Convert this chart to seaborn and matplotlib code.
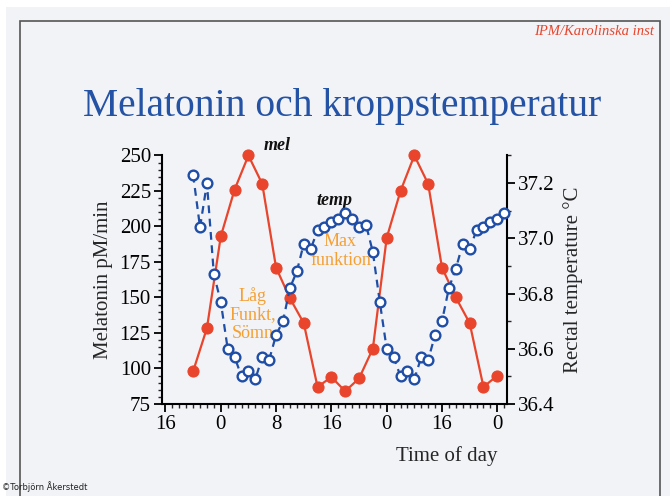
import seaborn as sns
import matplotlib.pyplot as plt
import matplotlib.patches as patches
import pandas as pd
from matplotlib.ticker import MultipleLocator

# hours after 16:00 on the first day
mel_hours = [4, 6, 8, 10, 12, 14, 16, 18, 20, 22, 24, 26, 28, 30, 32, 34, 36, 38,
             40, 42, 44, 46, 48]
melatonin = [98, 128.5, 193, 226, 250, 230, 171, 149.5, 132, 87, 94, 84, 93, 114,
             192, 225, 250, 230, 171, 150, 132, 87, 95]

temp_hours = list(range(4, 50))
temperature = [37.23, 37.04, 37.20, 36.87, 36.77, 36.60, 36.57, 36.50, 36.52, 36.49,
               36.57, 36.56, 36.65, 36.70, 36.82, 36.88, 36.98, 36.96, 37.03, 37.04,
               37.06, 37.07, 37.09, 37.07, 37.04, 37.05, 36.95, 36.77, 36.60, 36.57,
               36.50, 36.52, 36.49, 36.57, 36.56, 36.65, 36.70, 36.82, 36.89, 36.98,
               36.96, 37.03, 37.04, 37.06, 37.07, 37.09]

tick_hours = [0, 8, 16, 24, 32, 40, 48]
tick_labels = ['16', '0', '8', '16', '0', '16', '0']

df_mel = pd.DataFrame({'hour': mel_hours, 'mel': melatonin})
df_temp = pd.DataFrame({'hour': temp_hours, 'temp': temperature})

sns.set_theme(style="ticks")
plt.rcParams['font.family'] = ['Liberation Serif', 'DejaVu Serif']

red = '#e8452c'
blue = '#1f4ea6'
orange = '#f5a033'
bg = '#f2f3f7'

fig = plt.figure(figsize=(6.7, 4.96), dpi=100, facecolor='white')
# slide background and frame
fig.patches.append(patches.Rectangle((0.009, -0.01), 1.0, 0.996, transform=fig.transFigure,
                                     facecolor=bg, edgecolor='none', zorder=-2))
fig.patches.append(patches.Rectangle((0.030, -0.05), 0.955, 1.0077, transform=fig.transFigure,
                                     fill=False, edgecolor='#555555', linewidth=1.2, zorder=-1))

ax = fig.add_axes([0.2418, 0.1855, 0.5149, 0.501])
ax.set_facecolor('none')
ax2 = ax.twinx()

sns.lineplot(data=df_mel, x='hour', y='mel', ax=ax, color=red, linewidth=1.6,
             marker='o', markersize=8, markerfacecolor=red, markeredgecolor=red,
             zorder=2, clip_on=False)
sns.lineplot(data=df_temp, x='hour', y='temp', ax=ax2, color=blue, linewidth=1.6,
             linestyle=(0, (3.5, 2.5)), marker='o', markersize=7, markerfacecolor='white',
             markeredgecolor=blue, markeredgewidth=1.7, zorder=3, clip_on=False)

ax.set_xlim(-0.5, 49.4)
ax.set_ylim(75, 250)
ax2.set_ylim(36.4, 37.3)

ax.set_xticks(tick_hours)
ax.set_xticklabels(tick_labels)
ax.xaxis.set_minor_locator(MultipleLocator(1))
ax.set_yticks([75, 100, 125, 150, 175, 200, 225, 250])
ax.yaxis.set_minor_locator(MultipleLocator(5))
ax2.set_yticks([36.4, 36.6, 36.8, 37.0, 37.2])
ax2.set_yticklabels(['36.4', '36.6', '36.8', '37.0', '37.2'])
ax2.yaxis.set_minor_locator(MultipleLocator(0.1))

for a in (ax, ax2):
    a.tick_params(which='major', length=6, width=1.3, labelsize=15, colors='black', pad=2)
    a.tick_params(which='minor', length=3, width=1.0)
    for s in a.spines.values():
        s.set_linewidth(1.5)
        s.set_color('black')
    a.spines['top'].set_visible(False)
ax.spines['right'].set_visible(False)
ax2.spines['left'].set_visible(False)
ax2.spines['bottom'].set_visible(False)

ax.set_ylabel('Melatonin pM/min', fontsize=15, labelpad=5)
ax2.set_ylabel('Rectal temperature °C', fontsize=15, labelpad=6)
ax.set_xlabel('Time of day', fontsize=15)
ax.xaxis.set_label_coords(0.826, -0.17)

ax.text(16.1, 257, 'mel', fontsize=13, style='italic', fontweight='bold',
        ha='center', va='center', color='#111111')
ax.text(24.5, 218, 'temp', fontsize=13, style='italic', fontweight='bold',
        ha='center', va='center', color='#111111')
ax.text(25.3, 183, 'Max\nfunktion', fontsize=13, color=orange, ha='center',
        va='center', linespacing=1.15, zorder=5)
ax.text(12.6, 138, 'Låg\nFunkt,\nSömn', fontsize=13, color=orange, ha='center',
        va='center', linespacing=1.15, zorder=5)

fig.text(0.51, 0.786, 'Melatonin och kroppstemperatur', fontsize=28.5, color='#2452a5',
         ha='center', va='center')
fig.text(0.976, 0.937, 'IPM/Karolinska inst', fontsize=10.5, color=red, style='italic',
         ha='right', va='center')
fig.text(0.003, 0.008, '©Torbjörn Åkerstedt', fontsize=6, family=['DejaVu Sans'],
         ha='left', va='bottom', color='#222222')

fig.savefig('out.png', dpi=100, facecolor=fig.get_facecolor())
